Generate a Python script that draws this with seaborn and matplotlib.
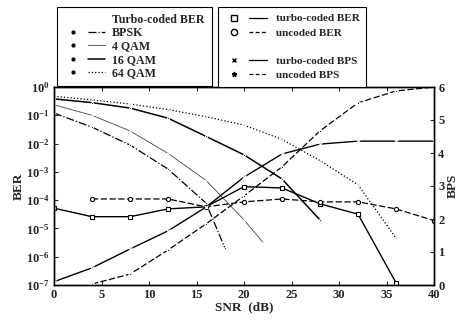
import math
import matplotlib
matplotlib.use("Agg")
import matplotlib.pyplot as plt
import seaborn as sns
from matplotlib.lines import Line2D
from matplotlib.legend_handler import HandlerTuple
from matplotlib.ticker import FuncFormatter, LogLocator, NullFormatter

# Uncoded BER per modulation
bpsk_snr = [0, 4, 8, 12, 16, 18]
bpsk_ber = [0.12, 0.038, 8.9e-3, 1.26e-3, 7.9e-5, 2.0e-6]
qam4_snr = [0, 4, 8, 12, 16, 20, 22]
qam4_ber = [0.234, 0.10, 0.028, 4.5e-3, 5.0e-4, 2.0e-5, 3.2e-6]
qam16_snr = [0, 4, 8, 12, 16, 20, 24, 28]
qam16_ber = [0.38, 0.28, 0.18, 0.079, 0.018, 4.0e-3, 5.6e-4, 2.0e-5]
qam64_snr = [0, 4, 8, 12, 16, 20, 24, 28, 32, 36]
qam64_ber = [0.47, 0.35, 0.25, 0.16, 0.089, 0.045, 0.014, 2.5e-3, 3.5e-4, 4.5e-6]

# Adaptive scheme
turbo_ber_snr = [0, 4, 8, 12, 16, 20, 24, 28, 32, 36]
turbo_ber = [5.2e-5, 2.6e-5, 2.6e-5, 4.9e-5, 5.8e-5, 3.0e-4, 2.7e-4, 7.4e-5, 3.2e-5, 1.2e-7]
uncoded_ber_snr = [4, 8, 12, 16, 20, 24, 28, 32, 36, 40]
uncoded_ber = [1.1e-4, 1.1e-4, 1.1e-4, 5.8e-5, 8.7e-5, 1.1e-4, 8.7e-5, 8.7e-5, 4.9e-5, 1.9e-5]
turbo_bps_snr = [0, 4, 8, 12, 16, 20, 24, 28, 32, 36, 40]
turbo_bps = [0.1, 0.52, 1.09, 1.64, 2.36, 3.27, 3.97, 4.27, 4.36, 4.36, 4.36]
uncoded_bps_snr = [4, 8, 12, 16, 20, 24, 28, 32, 36, 40]
uncoded_bps = [0.03, 0.33, 1.06, 1.85, 2.7, 3.58, 4.67, 5.52, 5.88, 6.0]

sns.set_style("ticks")
plt.rcParams['font.family'] = ['Liberation Serif', 'DejaVu Serif']
plt.rcParams['font.weight'] = 'bold'
plt.rcParams['mathtext.fontset'] = 'custom'
plt.rcParams['mathtext.rm'] = 'Liberation Serif:bold'
plt.rcParams['mathtext.bf'] = 'Liberation Serif:bold'
plt.rcParams['mathtext.it'] = 'Liberation Serif:bold:italic'

fig = plt.figure(figsize=(4.59, 3.2), dpi=100)
ax = fig.add_axes([54 / 459, 1 - 285 / 320, 380 / 459, 198 / 320])
ax.set_yscale('log')
ax2 = ax.twinx()

dash = (0, (5, 2))
k = 'black'

sns.lineplot(x=bpsk_snr, y=bpsk_ber, ax=ax, color=k, lw=0.9, linestyle='-.',
             marker='o', markersize=1.5)
sns.lineplot(x=qam4_snr, y=qam4_ber, ax=ax, color='#444444', lw=0.6,
             marker='o', markersize=1.2)
sns.lineplot(x=qam16_snr, y=qam16_ber, ax=ax, color=k, lw=1.1,
             marker='o', markersize=1.5)
sns.lineplot(x=qam64_snr, y=qam64_ber, ax=ax, color=k, lw=0.9, linestyle=':',
             marker='o', markersize=1.2)

sns.lineplot(x=turbo_ber_snr, y=turbo_ber, ax=ax, color=k, lw=1.0,
             marker='s', markersize=3.5, mfc='white', mec=k, mew=0.8)
sns.lineplot(x=uncoded_ber_snr, y=uncoded_ber, ax=ax, color=k, lw=0.9, linestyle=dash,
             marker='o', markersize=3, mfc='white', mec=k, mew=0.8)
sns.lineplot(x=turbo_bps_snr, y=turbo_bps, ax=ax2, color=k, lw=1.0,
             marker='x', markersize=3, mew=0.8)
sns.lineplot(x=uncoded_bps_snr, y=uncoded_bps, ax=ax2, color=k, lw=0.9, linestyle=dash,
             marker='*', markersize=3.5)

ax.set_xlim(0, 40)
ax.set_ylim(1e-7, 1)
ax2.set_ylim(0, 6)
ax.set_xticks(range(0, 41, 5))
ax.yaxis.set_major_locator(LogLocator(base=10, numticks=10))
ax.yaxis.set_major_formatter(FuncFormatter(lambda v, p: r'$\mathbf{10^{%d}}$' % round(math.log10(v))))
ax.yaxis.set_minor_formatter(NullFormatter())
ax2.set_yticks(range(0, 7))

for a in (ax, ax2):
    for s in a.spines.values():
        s.set_linewidth(1.0)
        s.set_color(k)
ax.tick_params(direction='in', top=True, labelsize=9, pad=3, length=3, width=0.8)
ax.tick_params(which='minor', direction='in', length=1.5, width=0.5)
ax2.tick_params(direction='in', labelsize=9, pad=3, length=3, width=0.8)

ax.set_xlabel('SNR  (dB)', fontsize=9.5, fontweight='bold', labelpad=0)
ax.set_ylabel('BER', fontsize=9.5, fontweight='bold', labelpad=1)
ax2.set_ylabel('BPS', fontsize=9.5, fontweight='bold', labelpad=2)

# Legends above the axes
dot = lambda: Line2D([], [], color=k, marker='o', markersize=2, linestyle='none')
blank = Line2D([], [], linestyle='none')
left_handles = [
    blank,
    (dot(), Line2D([], [], color=k, lw=0.9, linestyle='-.')),
    (dot(), Line2D([], [], color='#444444', lw=0.6)),
    (dot(), Line2D([], [], color=k, lw=1.1)),
    (dot(), Line2D([], [], color=k, lw=0.9, linestyle=':')),
]
left_labels = ['Turbo-coded BER', 'BPSK', '4 QAM', '16 QAM', '64 QAM']
leg1 = fig.legend(left_handles, left_labels, loc='upper left',
                  bbox_to_anchor=(57 / 459, 1 - 7 / 320), borderaxespad=0,
                  fontsize=8.6,
                  handler_map={tuple: HandlerTuple(ndivide=None, pad=0.6)},
                  handlelength=3.4, handletextpad=0.6, labelspacing=0.1,
                  borderpad=0.6, fancybox=False, edgecolor=k, framealpha=1)
leg1.get_frame().set_linewidth(0.8)

right_handles = [
    (Line2D([], [], color=k, marker='s', mfc='white', markersize=4.5, linestyle='none'),
     Line2D([], [], color=k, lw=0.9)),
    (Line2D([], [], color=k, marker='o', mfc='white', markersize=4.5, linestyle='none'),
     Line2D([], [], color=k, lw=0.9, linestyle=(0, (3, 2)))),
    blank,
    (Line2D([], [], color=k, marker='x', markersize=3.5, linestyle='none'),
     Line2D([], [], color=k, lw=0.9)),
    (Line2D([], [], color=k, marker='*', markersize=3.5, linestyle='none'),
     Line2D([], [], color=k, lw=0.9, linestyle=(0, (3, 2)))),
]
right_labels = ['turbo-coded BER', 'uncoded BER', ' ', 'turbo-coded BPS', 'uncoded BPS']
leg2 = fig.legend(right_handles, right_labels, loc='upper left',
                  bbox_to_anchor=(218 / 459, 1 - 7 / 320), borderaxespad=0,
                  fontsize=8,
                  handler_map={tuple: HandlerTuple(ndivide=None, pad=0.6)},
                  handlelength=3.8, handletextpad=0.8, labelspacing=0.4,
                  borderpad=0.6, fancybox=False, edgecolor=k, framealpha=1)
leg2.get_frame().set_linewidth(0.8)

fig.savefig('out.png', dpi=100)
